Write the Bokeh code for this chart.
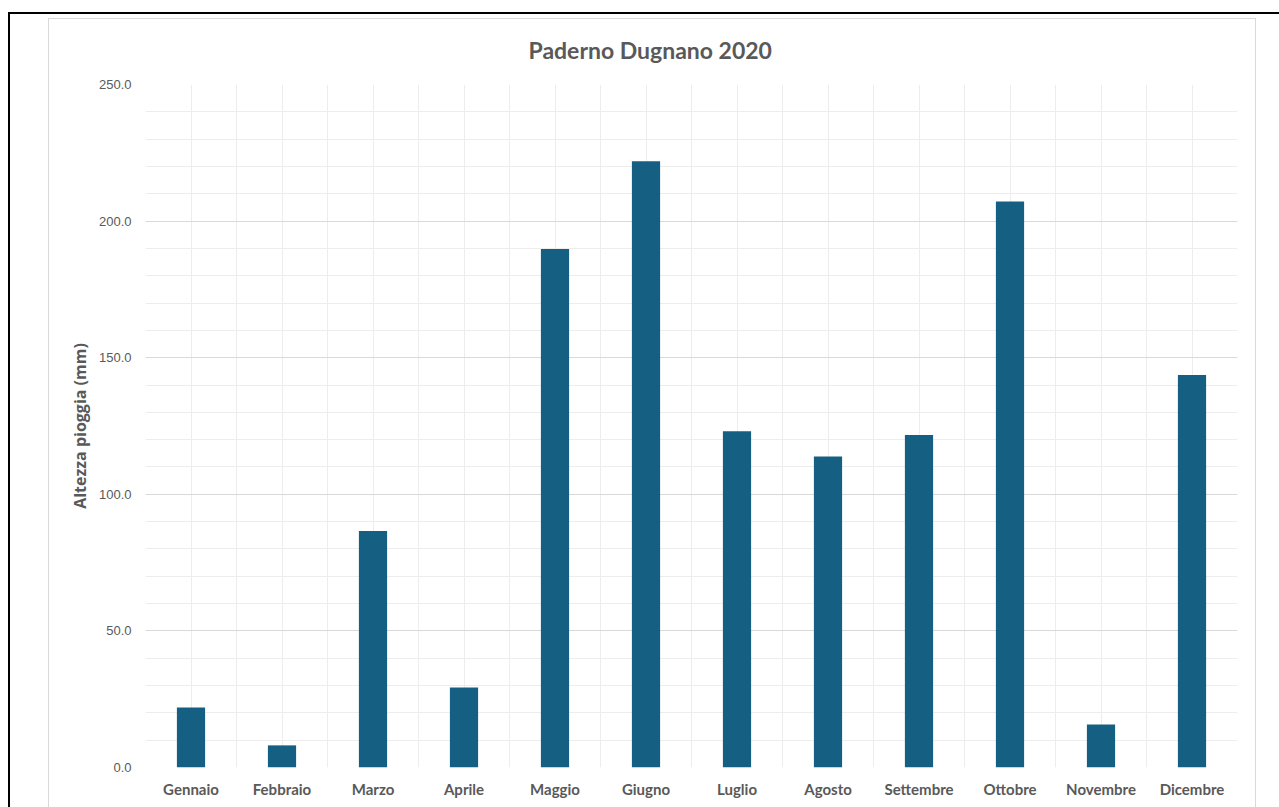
from bokeh.plotting import figure
from bokeh.models import (ColumnDataSource, Range1d, FixedTicker, Title,
                          NumeralTickFormatter)
from bokeh.embed import file_html
from bokeh.resources import INLINE

months = ["Gennaio", "Febbraio", "Marzo", "Aprile", "Maggio", "Giugno",
          "Luglio", "Agosto", "Settembre", "Ottobre", "Novembre", "Dicembre"]
rain_mm = [22.0, 8.1, 86.6, 29.3, 189.8, 221.9, 123.1, 113.8, 121.7, 207.2, 15.7, 143.7]
y_major = [0, 50, 100, 150, 200, 250]
y_minor = list(range(0, 251, 10))
title_text = "Paderno Dugnano 2020"
y_title = "Altezza pioggia (mm)"

TXT = "#595959"
BAR = "#156082"

xs = [i + 0.5 for i in range(len(months))]
src = ColumnDataSource(dict(x=xs, top=rain_mm, month=months))

p = figure(width=1279, height=807, output_backend="svg", toolbar_location=None,
           x_range=Range1d(0, len(months)), y_range=Range1d(0, 250),
           min_border_left=145, min_border_right=42, min_border_top=84, min_border_bottom=40)
p.outline_line_color = None
p.background_fill_color = "white"
p.border_fill_color = None

# Chart-area frames drawn as page background behind the transparent canvas border
line = "linear-gradient({c},{c}) {x}px {y}px / {w}px {h}px no-repeat"
bg = ", ".join([
    line.format(c="#000000", x=8, y=12, w=1271, h=2),
    line.format(c="#000000", x=8, y=12, w=2, h=795),
    line.format(c="#d9d9d9", x=48, y=18, w=1208, h=1),
    line.format(c="#d9d9d9", x=48, y=18, w=1, h=789),
    line.format(c="#d9d9d9", x=1255, y=18, w=1, h=789),
])
p.styles = {"background": bg + ", #ffffff"}

p.vbar(x="x", top="top", width=0.31, bottom=0, source=src,
       fill_color=BAR, line_color=None)

# x axis
p.xaxis.ticker = FixedTicker(ticks=xs, minor_ticks=list(range(len(months) + 1)))
p.xaxis.major_label_overrides = {x: m for x, m in zip(xs, months)}
p.xaxis.axis_line_color = None
p.xaxis.major_tick_line_color = None
p.xaxis.minor_tick_line_color = None
p.xaxis.major_label_text_font = "Lato"
p.xaxis.major_label_text_font_style = "bold"
p.xaxis.major_label_text_font_size = "15px"
p.xaxis.major_label_text_color = TXT
p.xaxis.major_label_standoff = 6

# y axis
p.yaxis.ticker = FixedTicker(ticks=y_major, minor_ticks=y_minor)
p.yaxis.formatter = NumeralTickFormatter(format="0.0")
p.yaxis.axis_line_color = None
p.yaxis.major_tick_line_color = None
p.yaxis.minor_tick_line_color = None
p.yaxis.major_label_text_font = "Liberation Sans"
p.yaxis.major_label_text_font_size = "13px"
p.yaxis.major_label_text_color = TXT
p.yaxis.major_label_standoff = 8
p.yaxis.axis_label = y_title
p.yaxis.axis_label_text_font = "Open Sans"
p.yaxis.axis_label_text_font_style = "bold"
p.yaxis.axis_label_text_font_size = "16px"
p.yaxis.axis_label_text_color = TXT
p.yaxis.axis_label_standoff = 5

# grids
p.xgrid.grid_line_color = "#ededed"
p.xgrid.minor_grid_line_color = "#ededed"
p.ygrid.grid_line_color = "#d9d9d9"
p.ygrid.minor_grid_line_color = "#ededed"

# title, centred over the chart area
p.add_layout(Title(text=title_text, align="left", offset=383, standoff=41,
                   text_font="Lato", text_font_style="bold", text_font_size="23px",
                   text_color=TXT), "above")

open("out.html", "w").write(file_html(p, INLINE))
